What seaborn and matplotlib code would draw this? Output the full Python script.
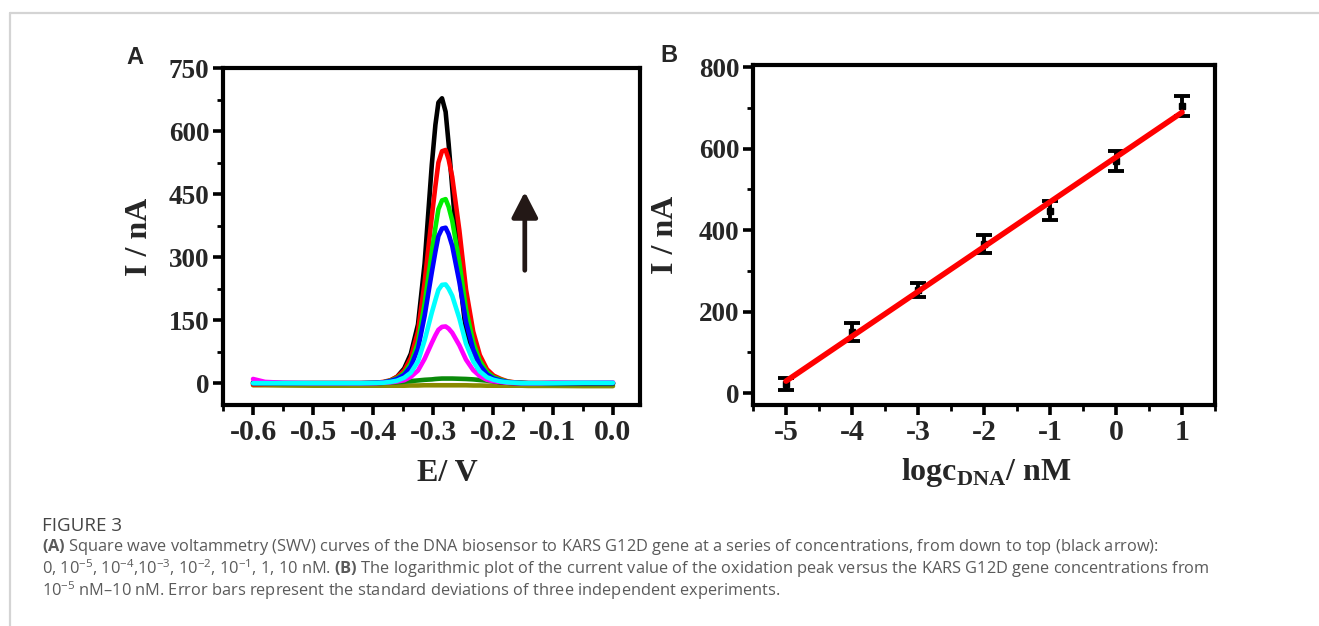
import numpy as np
import pandas as pd
import matplotlib
matplotlib.use('Agg')
import matplotlib.pyplot as plt
from matplotlib.lines import Line2D
from matplotlib.ticker import MultipleLocator
import seaborn as sns

# Panel A: SWV curves (potential in V, current in nA)
potential = [-0.60, -0.58, -0.55, -0.50, -0.45, -0.42, -0.394, -0.383, -0.371, -0.360,
             -0.348, -0.337, -0.325, -0.314, -0.302, -0.296, -0.291, -0.285, -0.279,
             -0.274, -0.268, -0.256, -0.245, -0.233, -0.222, -0.210, -0.199, -0.187,
             -0.176, -0.164, -0.153, -0.141, -0.12, -0.10, -0.05, 0.00]

i_0 = [-5, -5, -5.5, -6, -6, -6, -6, -6, -6, -6, -6, -5.5, -5.5, -5, -5, -5, -5, -5,
       -5, -5, -5, -5, -5, -5.5, -5.5, -6, -6, -6, -6, -6, -6, -6.5, -6.5, -6.5, -7, -7]
i_1e5 = [-1, -1, -1.5, -1.5, -1.5, -1, 0, 0.5, 1, 2, 3.5, 5, 6.5, 8, 9, 10, 10.5, 11,
         11, 11, 11, 10.5, 10, 9, 7.5, 6, 4, 2.5, 1, 0, -0.5, -1, -1.5, -2, -2, -2]
i_1e4 = [10, 3, 1, 0, 0, 0, 0, 1, 2, 4, 7, 15, 30, 58, 96, 114, 127, 134,
         135, 130, 120, 90, 56, 31, 17, 8, 4.5, 2.5, 1, 0, 0, 0, 0, 1, 1, 2]
i_1e3 = [0, 0, 0, 0, 0, 0, 0.5, 1, 3, 6, 13, 25, 52, 102, 168, 198, 222, 234,
         235, 225, 208, 154, 94, 52, 28, 14, 8, 4, 2, 1, 0, 0, 0, 0, 1, 1]
i_1e2 = [0, 0, 0, 0, 0, 0, 1, 2, 5, 10, 20, 40, 82, 160, 264, 313, 350, 368,
         370, 355, 327, 240, 146, 80, 43, 21, 11, 6, 3, 1, 0.5, 0, 0, 0, 0, 0]
i_1e1 = [0, 0, 0, 0, 0, 0, 1, 2, 6, 12, 24, 47, 97, 189, 312, 370, 414, 435,
         438, 420, 387, 286, 176, 97, 53, 26, 14, 8, 3.5, 1.5, 1, 0, 0, 0, 0, 0]
i_1 = [-3, -2, -1, 0, 0, 0, 1, 3, 7, 15, 30, 60, 123, 240, 396, 469, 525, 552,
       555, 533, 491, 363, 223, 123, 67, 33, 18, 10, 4.5, 2, 1, 0, 0, 0, 0, 0]
i_10 = [2, 1, 0, 0, 0, 0, 0, 1, 6, 15, 35, 70, 140, 285, 520, 615, 668, 678,
        646, 570, 466, 255, 122, 58, 27, 12, 5, 2, 1, 0, 0, 0, 0, 0, 0, 0]

# drawing order (back to front) and colours
conc_labels = ['0', '1e-5', '10 nM', '1 nM', '1e-1', '1e-2', '1e-4', '1e-3']
conc_curves = [i_0, i_1e5, i_10, i_1, i_1e1, i_1e2, i_1e4, i_1e3]
conc_colors = ['#8a8a00', '#0a8a0a', '#000000', '#ff0000', '#00ee00', '#0000ff',
               '#ff00ff', '#00ffff']

# Panel B: calibration points
log_c = [-5, -4, -3, -2, -1, 0, 1]
peak_i = [23, 151, 253, 366, 448, 569, 705]
peak_sd = [14, 22, 18, 22, 23, 24, 24]

sns.set_style('ticks')
plt.rcParams['font.family'] = ['Liberation Serif', 'DejaVu Serif']
plt.rcParams['font.weight'] = 'bold'
plt.rcParams['axes.unicode_minus'] = False
plt.rcParams['mathtext.fontset'] = 'custom'
plt.rcParams['mathtext.rm'] = 'Open Sans:weight=normal'
plt.rcParams['mathtext.sf'] = 'Open Sans:bold'
plt.rcParams['mathtext.bf'] = 'Liberation Serif:bold'

swv = pd.concat([pd.DataFrame({'E': potential, 'I': c, 'conc': lab})
                 for lab, c in zip(conc_labels, conc_curves)], ignore_index=True)

fig = plt.figure(figsize=(13.19, 6.26), dpi=100)
axA = fig.add_axes([0.1691, 0.3530, 0.3161, 0.5383])
axB = fig.add_axes([0.5709, 0.3530, 0.3503, 0.5431])

sns.lineplot(data=swv, x='E', y='I', hue='conc', hue_order=conc_labels,
             palette=conc_colors, estimator=None, sort=False, lw=3.3,
             legend=False, solid_joinstyle='round', ax=axA)
axA.annotate('', xy=(-0.147, 462), xytext=(-0.147, 262),
             arrowprops=dict(arrowstyle='-|>,head_width=0.36,head_length=0.7',
                             color='#231816', lw=3.4, mutation_scale=22))
axA.set_xlim(-0.65, 0.045)
axA.set_ylim(-52, 750)
axA.xaxis.set_major_locator(MultipleLocator(0.1))
axA.xaxis.set_minor_locator(MultipleLocator(0.05))
axA.yaxis.set_major_locator(MultipleLocator(150))
axA.yaxis.set_minor_locator(MultipleLocator(75))
axA.set_xticks(np.arange(-0.6, 0.01, 0.1))
axA.set_xticklabels(['-0.6', '-0.5', '-0.4', '-0.3', '-0.2', '-0.1', '0.0'])
axA.set_xlabel('E/ V', fontsize=23, fontweight='bold')
axA.set_ylabel('I / nA', fontsize=23, fontweight='bold')
axA.xaxis.set_label_coords(0.537, -0.16)
axA.yaxis.set_label_coords(-0.165, 0.5)

axB.errorbar(log_c, peak_i, yerr=peak_sd, fmt='s', color='black', ms=4,
             elinewidth=2.8, capsize=6, capthick=2.8, zorder=2)
sns.regplot(x=log_c, y=peak_i, scatter=False, ci=None, ax=axB,
            line_kws=dict(color='#ff0000', lw=4, zorder=3))
axB.set_xlim(-5.5, 1.5)
axB.set_ylim(-29, 805)
axB.xaxis.set_major_locator(MultipleLocator(1))
axB.xaxis.set_minor_locator(MultipleLocator(0.5))
axB.yaxis.set_major_locator(MultipleLocator(200))
axB.yaxis.set_minor_locator(MultipleLocator(100))
axB.set_xlabel(r'logc$_{\mathbf{DNA}}$/ nM', fontsize=23, fontweight='bold')
axB.set_ylabel('I / nA', fontsize=23, fontweight='bold')
axB.xaxis.set_label_coords(0.504, -0.15)
axB.yaxis.set_label_coords(-0.158, 0.5)

for ax in (axA, axB):
    for s in ax.spines.values():
        s.set_visible(True)
        s.set_linewidth(3)
        s.set_color('black')
    ax.tick_params(which='major', direction='out', length=7, width=2.6,
                   color='black', pad=3)
    ax.tick_params(which='minor', direction='out', length=4, width=2,
                   color='black')
    ax.tick_params(axis='x', which='major', labelsize=21.5, pad=3)
    ax.tick_params(axis='y', which='major', labelsize=19.5)
    for lab in ax.get_xticklabels() + ax.get_yticklabels():
        lab.set_fontweight('bold')

fig.text(135 / 1319, 1 - 57 / 626, 'A', family='Liberation Sans',
         fontsize=17, fontweight='bold', ha='center', va='center')
fig.text(669 / 1319, 1 - 56 / 626, 'B', family='Liberation Sans',
         fontsize=17, fontweight='bold', ha='center', va='center')

# page frame
fig.add_artist(Line2D([10 / 1319, 1], [1 - 13 / 626] * 2, color='#d4d4d4', lw=1.6))
fig.add_artist(Line2D([10 / 1319] * 2, [0, 1 - 13 / 626], color='#d4d4d4', lw=1.6))

# caption
cap_x = 42 / 1319
fig.text(cap_x, 1 - 531 / 626, 'FIGURE 3', family='Open Sans', fontsize=13.5,
         fontweight='normal', color='#454545', va='baseline')
caption = [
    r'$\mathsf{(A)}$ Square wave voltammetry (SWV) curves of the DNA biosensor to '
    r'KARS G12D gene at a series of concentrations, from down to top (black arrow):',
    r'0, 10$^{-5}$, 10$^{-4}$,10$^{-3}$, 10$^{-2}$, 10$^{-1}$, 1, 10 nM. '
    r'$\mathsf{(B)}$ The logarithmic plot of the current value of the oxidation peak '
    r'versus the KARS G12D gene concentrations from',
    r'10$^{-5}$ nM–10 nM. Error bars represent the standard deviations of three '
    r'independent experiments.',
]
for k, line in enumerate(caption):
    fig.text(cap_x, 1 - (551 + 22.5 * k) / 626, line, family='Open Sans',
             fontsize=11.8, fontweight='normal', color='#5a5a5a', va='baseline')

fig.savefig('out.png', dpi=100)
